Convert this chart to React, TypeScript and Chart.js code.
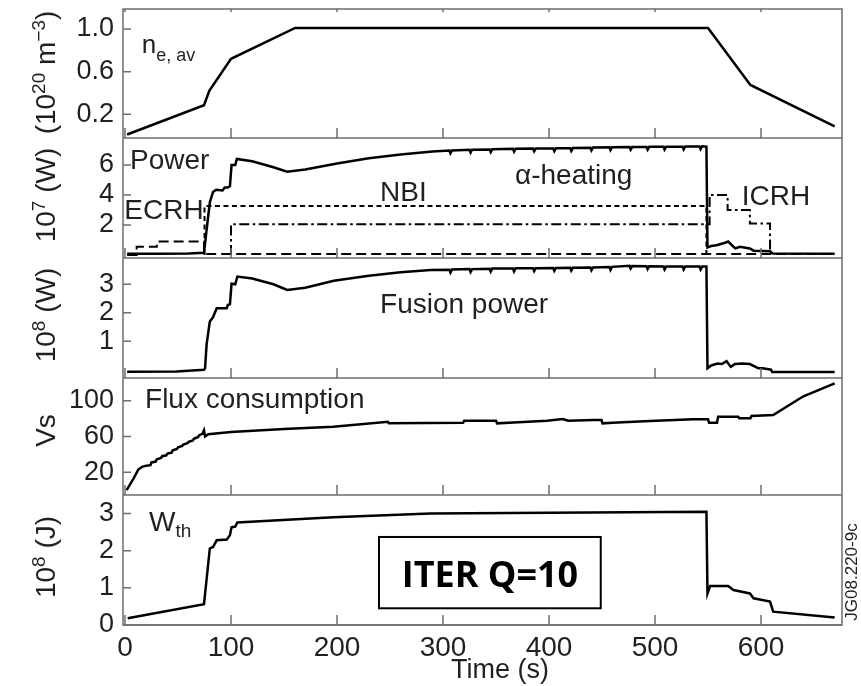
import React, { useEffect, useRef } from 'react';
import { Chart, registerables } from 'chart.js';
Chart.register(...registerables);

// ---------- tick values ----------
const X_TICKS = [0, 100, 200, 300, 400, 500, 600];
const DENSITY_TICKS = [0.2, 0.6, 1.0];
const POWER_TICKS = [2, 4, 6];
const FUSION_TICKS = [1, 2, 3];
const FLUX_TICKS = [20, 60, 100];
const WTH_TICKS = [0, 1, 2, 3];

// ---------- series (time in s) ----------
const densityT = [2, 74.5, 79.5, 100, 160.5, 550, 590, 669.5];
const densityV = [0.01, 0.285, 0.42, 0.72, 1.01, 1.01, 0.475, 0.085];

const alphaT = [2, 30, 60, 74.5, 77, 80, 83, 86, 92, 94, 97, 99, 100.5, 104, 105.5, 120, 140, 153, 170, 200, 230, 260, 290,
  306, 307, 308.5, 325, 326, 327.5, 344, 345, 346.5, 366, 367, 368.5, 385, 386, 387.5, 404, 405, 406.5, 420, 421, 422.5, 439, 440, 441.5, 457, 458, 459.5, 476, 477, 478.5, 492, 493, 494.5, 508, 509, 510.5, 526, 527, 528.5, 542, 543, 544.5,
  548.5, 549.5, 553, 558, 564.5, 569, 574, 576, 580, 589.5, 593, 608.5, 611, 669.5];
const alphaV = [0.08, 0.08, 0.1, 0.15, 1.7, 3.5, 4.2, 4.35, 4.3, 4.5, 4.5, 4.6, 6.0, 6.0, 6.4, 6.25, 5.85, 5.55, 5.7, 6.1, 6.45, 6.7, 6.9,
  6.96, 6.78, 6.97, 7.01, 6.83, 7.02, 7.04, 6.86, 7.05, 7.08, 6.9, 7.09, 7.1, 6.92, 7.1, 7.1, 6.92, 7.11, 7.12, 6.94, 7.13, 7.15, 6.97, 7.16, 7.18, 7.0, 7.19, 7.2, 7.02, 7.2, 7.2, 7.02, 7.21, 7.21, 7.03, 7.22, 7.22, 7.04, 7.23, 7.24, 7.06, 7.25,
  7.22, 0.5, 0.6, 0.65, 0.78, 0.9, 0.55, 0.44, 0.55, 0.44, 0.29, 0.25, 0.1, 0.08];

const ecrhT = [2, 11, 11, 30, 30, 74.5, 74.5, 669.5];
const ecrhV = [0, 0, 0.55, 0.55, 0.9, 0.9, 0.07, 0.07];

const nbiT = [75, 75, 548.5, 548.5];
const nbiV = [0, 3.27, 3.27, 0];

const icrhT = [100, 100, 551.5, 551.5, 568.5, 568.5, 589.5, 589.5, 608.5, 608.5];
const icrhV = [0, 2.05, 2.05, 4.0, 4.0, 3.0, 3.0, 2.1, 2.1, 0];

const fusionT = [2, 48.5, 74.5, 75.5, 77, 80, 83, 86.5, 96, 97, 99, 100.5, 104, 106, 120, 140, 153, 170, 197, 230, 260, 288.5,
  306, 307, 308.5, 325, 326, 327.5, 344, 345, 346.5, 366, 367, 368.5, 385, 386, 387.5, 404, 405, 406.5, 420, 421, 422.5, 439, 440, 441.5, 457, 458, 459.5, 476, 477, 478.5, 492, 493, 494.5, 508, 509, 510.5, 526, 527, 528.5, 542, 543, 544.5,
  548.5, 549.5, 553, 559, 563, 567.5, 571.5, 575.5, 582.5, 589.5, 597.5, 601.5, 609.5, 610.5, 669.5];
const fusionV = [-0.07, -0.06, 0.0, 0.05, 0.9, 1.69, 1.84, 2.16, 2.16, 2.27, 2.3, 3.02, 3.0, 3.27, 3.2, 3.0, 2.8, 2.88, 3.12, 3.3, 3.42, 3.5,
  3.51, 3.41, 3.52, 3.53, 3.43, 3.53, 3.54, 3.44, 3.55, 3.55, 3.45, 3.56, 3.56, 3.46, 3.56, 3.57, 3.47, 3.57, 3.58, 3.48, 3.58, 3.59, 3.49, 3.59, 3.6, 3.5, 3.61, 3.65, 3.55, 3.64, 3.63, 3.53, 3.63, 3.62, 3.52, 3.62, 3.62, 3.52, 3.62, 3.62, 3.52, 3.62,
  3.62, 0.05, 0.15, 0.22, 0.2, 0.3, 0.1, 0.2, 0.22, 0.2, 0.05, 0.05, 0.0, -0.08, -0.08];

const fluxT = [1.5, 8, 12.5, 16, 20, 24, 25, 29, 30, 34, 35, 39, 40, 44, 45, 49, 50, 54, 55, 59, 60, 64, 65, 69, 70, 73, 74.5, 75.5, 78.5, 100, 150, 196.5, 248, 249, 319, 320, 350, 351, 371, 398, 413, 418, 442, 449.5, 450.5, 460, 495, 536, 550, 551, 558.5, 559.5, 578.5, 579.5, 590, 591, 611.5, 640, 669.5];
const fluxV = [0, 13, 23, 26, 27.4, 28, 31, 32, 34.5, 36, 38, 39, 41, 42, 44.5, 46, 48, 49.5, 51, 52.5, 54, 55.5, 57.5, 59.5, 61.5, 63, 67, 60, 62.5, 65, 68.5, 71, 76.5, 74.7, 75.4, 77.7, 77.7, 74.7, 75.8, 77.7, 79.5, 77.7, 78.4, 78.4, 74.7, 75.4, 77.3, 79.2, 79.2, 75.4, 75.4, 82.1, 82.1, 80.3, 80.3, 82.9, 84, 105, 119.4];

const wthT = [2.5, 74.5, 80, 83, 86.5, 96, 99, 100.5, 104, 106, 196.5, 288, 400, 548.5, 549.5, 552, 569, 574, 589.5, 593, 608.5, 611.5, 669.5];
const wthV = [0.18, 0.56, 2.06, 2.1, 2.28, 2.3, 2.42, 2.63, 2.65, 2.76, 2.9, 3.0, 3.02, 3.05, 0.85, 1.05, 1.05, 0.94, 0.85, 0.72, 0.63, 0.36, 0.2];

// ---------- styling ----------
const FONT = "'Liberation Sans', Arial, Helvetica, sans-serif";
const TEXT = '#231f20';
const FRAME = '#6e6e6e';

type Part = { t: string; s?: 'sup' | 'sub' };

const PANELS = [
  { id: 'y1', min: -0.023, max: 1.188, weight: 129, ticks: DENSITY_TICKS, fmt: (v: number) => v.toFixed(1),
    title: [{ t: '(10' }, { t: '20', s: 'sup' }, { t: ' m' }, { t: '\u22123', s: 'sup' }, { t: ')' }] as Part[], dy: -1 },
  { id: 'y2', min: -0.2, max: 7.8, weight: 120, ticks: POWER_TICKS, fmt: (v: number) => String(v),
    title: [{ t: '10' }, { t: '7', s: 'sup' }, { t: ' (W)' }] as Part[], dy: -3 },
  { id: 'y3', min: -0.29, max: 3.92, weight: 120, ticks: FUSION_TICKS, fmt: (v: number) => String(v),
    title: [{ t: '10' }, { t: '8', s: 'sup' }, { t: ' (W)' }] as Part[], dy: -3 },
  { id: 'y4', min: -5.4, max: 125.4, weight: 117, ticks: FLUX_TICKS, fmt: (v: number) => String(v),
    title: [{ t: 'Vs' }] as Part[], dy: -6 },
  { id: 'y5', min: 0, max: 3.5, weight: 130, ticks: WTH_TICKS, fmt: (v: number) => String(v),
    title: [{ t: '10' }, { t: '8', s: 'sup' }, { t: ' (J)' }] as Part[], dy: -3 },
];

const LABELS = [
  { axis: 'y1', t: 15.8, v: 0.772, size: 26, drop: 8, parts: [{ t: 'n' }, { t: 'e, av', s: 'sub' }] as Part[] },
  { axis: 'y2', t: 4.7, v: 5.71, size: 28, drop: 0, parts: [{ t: 'Power' }] as Part[] },
  { axis: 'y2', t: -0.7, v: 2.38, size: 28, drop: 0, parts: [{ t: 'ECRH' }] as Part[] },
  { axis: 'y2', t: 240.6, v: 3.62, size: 28, drop: 0, parts: [{ t: 'NBI' }] as Part[] },
  { axis: 'y2', t: 367.9, v: 4.73, size: 28, drop: 0, parts: [{ t: '\u03b1-heating' }] as Part[] },
  { axis: 'y2', t: 581.8, v: 3.33, size: 28, drop: 0, parts: [{ t: 'ICRH' }] as Part[] },
  { axis: 'y3', t: 240.6, v: 1.98, size: 28, drop: 0, parts: [{ t: 'Fusion power' }] as Part[] },
  { axis: 'y4', t: 18.9, v: 91.5, size: 28, drop: 0, parts: [{ t: 'Flux consumption' }] as Part[] },
  { axis: 'y5', t: 22.6, v: 2.53, size: 28, drop: 6, parts: [{ t: 'W' }, { t: 'th', s: 'sub' }] as Part[] },
];

const BOX = { t0: 239.6, t1: 448.8, v0: 2.37, v1: 0.45, tc: 344.3, vb: 1.03, text: 'ITER Q=10' };

function drawRich(ctx: CanvasRenderingContext2D, parts: Part[], x: number, y: number, size: number, align: 'left' | 'center', drop = 7) {
  const small = Math.round(size * 0.68);
  const widths = parts.map((p) => {
    ctx.font = `${p.s ? small : size}px ${FONT}`;
    return ctx.measureText(p.t).width;
  });
  const total = widths.reduce((a, b) => a + b, 0);
  let cx = align === 'center' ? x - total / 2 : x;
  ctx.textAlign = 'left';
  ctx.textBaseline = 'alphabetic';
  parts.forEach((p, i) => {
    ctx.font = `${p.s ? small : size}px ${FONT}`;
    const dy = p.s === 'sup' ? -size * 0.37 : p.s === 'sub' ? drop : 0;
    ctx.fillText(p.t, cx, y + dy);
    cx += widths[i];
  });
}

const decorPlugin = {
  id: 'decor',
  afterDraw(chart: any) {
    const { ctx, chartArea: ca, scales } = chart;
    const xs = scales.x;
    ctx.save();
    ctx.strokeStyle = FRAME;
    ctx.lineWidth = 1.5;
    ctx.strokeRect(ca.left, ca.top, ca.right - ca.left, ca.bottom - ca.top);
    PANELS.forEach((p, i) => {
      const s = scales[p.id];
      ctx.beginPath();
      ctx.moveTo(ca.left, s.bottom);
      ctx.lineTo(ca.right, s.bottom);
      X_TICKS.forEach((v) => {
        const px = xs.getPixelForValue(v);
        ctx.moveTo(px, s.bottom);
        ctx.lineTo(px, s.bottom - 10);
        if (i === 0) {
          ctx.moveTo(px, s.top);
          ctx.lineTo(px, s.top + 3);
        }
      });
      s.ticks.forEach((tk: any) => {
        const py = s.getPixelForValue(tk.value);
        ctx.moveTo(ca.left, py);
        ctx.lineTo(ca.left + 8, py);
      });
      ctx.stroke();
    });

    ctx.fillStyle = TEXT;
    // y titles
    PANELS.forEach((p) => {
      const s = scales[p.id];
      const cy = (s.top + s.bottom) / 2 + p.dy;
      ctx.save();
      ctx.translate(55, cy);
      ctx.rotate(-Math.PI / 2);
      drawRich(ctx, p.title, 0, 0, 28, 'center');
      ctx.restore();
    });

    // annotations
    LABELS.forEach((l) => {
      const s = scales[l.axis];
      drawRich(ctx, l.parts, xs.getPixelForValue(l.t), s.getPixelForValue(l.v), l.size, 'left', l.drop);
    });

    // x title
    ctx.font = `27px ${FONT}`;
    ctx.textAlign = 'center';
    ctx.textBaseline = 'alphabetic';
    ctx.fillText('Time (s)', xs.getPixelForValue(353.8), xs.bottom - 8);

    // ITER box
    const y5 = scales.y5;
    const bx0 = xs.getPixelForValue(BOX.t0), bx1 = xs.getPixelForValue(BOX.t1);
    const by0 = y5.getPixelForValue(BOX.v0), by1 = y5.getPixelForValue(BOX.v1);
    ctx.strokeStyle = '#000';
    ctx.lineWidth = 2;
    ctx.strokeRect(bx0, by0, bx1 - bx0, by1 - by0);
    ctx.fillStyle = '#000';
    ctx.font = `bold 36px 'Open Sans', 'Liberation Sans', sans-serif`;
    ctx.textAlign = 'center';
    ctx.fillText(BOX.text, xs.getPixelForValue(BOX.tc), y5.getPixelForValue(BOX.vb));

    // figure code
    ctx.save();
    ctx.fillStyle = TEXT;
    ctx.translate(856.5, (y5.top + y5.bottom) / 2 + 12);
    ctx.rotate(-Math.PI / 2);
    ctx.font = `17px ${FONT}`;
    ctx.textAlign = 'center';
    ctx.textBaseline = 'alphabetic';
    ctx.fillText('JG08.220-9c', 0, 0);
    ctx.restore();

    ctx.restore();
  },
};

const pts = (t: number[], v: number[]) => t.map((x, i) => ({ x, y: v[i] }));

export default function App() {
  const ref = useRef<HTMLCanvasElement | null>(null);
  useEffect(() => {
    if (!ref.current) return;
    const line = (data: any[], yAxisID: string, width: number, dash: number[] = []) => ({
      data, yAxisID, xAxisID: 'x', borderColor: '#000', borderWidth: width, borderDash: dash,
      pointRadius: 0, tension: 0, fill: false, borderCapStyle: 'butt', borderJoinStyle: 'miter',
    });
    const yScale = (p: typeof PANELS[number]) => ({
      type: 'linear', position: 'left', stack: 'panels', stackWeight: p.weight,
      min: p.min, max: p.max,
      grid: { display: false, drawTicks: false },
      border: { display: false },
      afterBuildTicks: (s: any) => { s.ticks = p.ticks.map((v) => ({ value: v })); },
      afterFit: (s: any) => { s.width = 123; s.paddingTop = 0; s.paddingBottom = 0; },
      ticks: { padding: 9, autoSkip: false, color: TEXT, font: { family: FONT, size: 27 }, callback: (v: any) => p.fmt(Number(v)) },
    });
    const scales: any = {
      x: {
        type: 'linear', position: 'bottom', min: -1.9, max: 676.4,
        grid: { display: false, drawTicks: false },
        border: { display: false },
        afterBuildTicks: (s: any) => { s.ticks = X_TICKS.map((v) => ({ value: v })); },
        afterFit: (s: any) => { s.height = 61; s.paddingLeft = 0; s.paddingRight = 0; },
        ticks: { padding: 6, autoSkip: false, maxRotation: 0, color: TEXT, font: { family: FONT, size: 28 }, callback: (v: any) => String(v) },
      },
    };
    [...PANELS].reverse().forEach((p) => { scales[p.id] = yScale(p); });

    const chart = new Chart(ref.current, {
      type: 'line',
      data: {
        datasets: [
          line(pts(densityT, densityV), 'y1', 2.5),
          line(pts(ecrhT, ecrhV), 'y2', 2, [10, 5]),
          line(pts(nbiT, nbiV), 'y2', 2, [5, 3.5]),
          line(pts(icrhT, icrhV), 'y2', 2, [10, 3.5, 2.5, 3.5]),
          line(pts(alphaT, alphaV), 'y2', 2.5),
          line(pts(fusionT, fusionV), 'y3', 2.5),
          line(pts(fluxT, fluxV), 'y4', 2.5),
          line(pts(wthT, wthV), 'y5', 2.5),
        ] as any,
      },
      options: {
        animation: false,
        responsive: false,
        devicePixelRatio: 1,
        parsing: true,
        layout: { padding: { top: 9, right: 19, left: 0, bottom: 0 } },
        plugins: { legend: { display: false }, tooltip: { enabled: false } },
        scales,
      } as any,
      plugins: [decorPlugin],
    });
    return () => chart.destroy();
  }, []);
  return (
    <div style={{ position: 'absolute', left: 0, top: 0, width: 861, height: 686, background: '#fff' }}>
      <canvas ref={ref} width={861} height={686} style={{ display: 'block', width: 861, height: 686 }} />
    </div>
  );
}
